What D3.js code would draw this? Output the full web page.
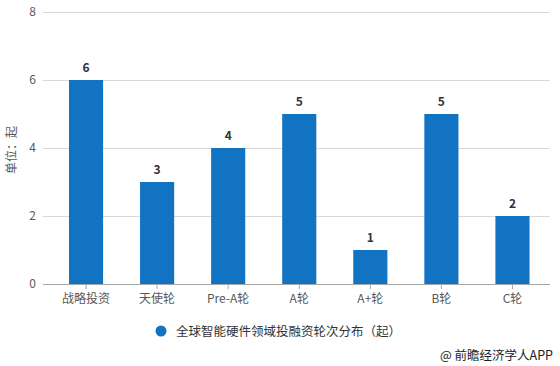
<!DOCTYPE html>
<html><head><meta charset="utf-8">
<script src="https://cdn.jsdelivr.net/npm/d3@7"></script>
<style>
body{margin:0;background:#fff;}
text{font-family:"Noto Sans CJK SC","Microsoft YaHei",sans-serif;}
</style></head>
<body><svg id="c" width="560" height="366"></svg>
<script>
const categories = ["战略投资","天使轮","Pre-A轮","A轮","A+轮","B轮","C轮"];
const values = [6,3,4,5,1,5,2];
const yTicks = [0,2,4,6,8];
const seriesName = "全球智能硬件领域投融资轮次分布（起）";

const svg = d3.select("#c");
const x = d3.scaleBand().domain(categories).range([50.5,548]).paddingInner(0.52).paddingOuter(0.26);
const y = d3.scaleLinear().domain([0,8]).range([284,12]);

// gridlines
svg.append("g").selectAll("line").data(yTicks.filter(d=>d>0)).join("line")
  .attr("x1",43).attr("x2",550).attr("y1",d=>y(d)).attr("y2",d=>y(d))
  .attr("stroke","#d9d9d9").attr("stroke-width",1).attr("shape-rendering","crispEdges");

// y tick labels
svg.append("g").selectAll("text").data(yTicks).join("text")
  .attr("x",36).attr("y",d=>y(d)+4).attr("text-anchor","end")
  .attr("font-size",12).attr("fill","#595959").text(d=>d);

// y label
svg.append("text").attr("transform","translate(16,150) rotate(-90)")
  .attr("text-anchor","middle").attr("font-size",12).attr("fill","#595959").text("单位：起");

// bars
svg.append("g").selectAll("rect").data(values).join("rect")
  .attr("x",(d,i)=>x(categories[i])).attr("width",x.bandwidth())
  .attr("y",d=>y(d)).attr("height",d=>y(0)-y(d)).attr("fill","#1273c3");

// value labels
svg.append("g").selectAll("text").data(values).join("text")
  .attr("x",(d,i)=>x(categories[i])+x.bandwidth()/2).attr("y",d=>y(d)-8)
  .attr("text-anchor","middle").attr("font-size",12).attr("font-weight","bold")
  .attr("fill","#333").text(d=>d);

// x axis
const xa = svg.append("g").attr("transform","translate(0,284)")
  .call(d3.axisBottom(x).tickSize(5).tickSizeOuter(0));
xa.select(".domain").remove();
svg.append("line").attr("x1",43).attr("x2",550).attr("y1",284.5).attr("y2",284.5).attr("stroke","#a6a6a6");
xa.selectAll(".tick line").attr("stroke","#a6a6a6");
xa.selectAll(".tick text").attr("font-size",12).attr("fill","#595959").attr("dy","0.9em")
  .style("font-family",'"Noto Sans CJK SC",sans-serif');

// legend
svg.append("circle").attr("cx",161).attr("cy",331).attr("r",5.5).attr("fill","#1273c3");
svg.append("text").attr("x",176).attr("y",335.5).attr("font-size",12.5).attr("fill","#333").text(seriesName);

// source
svg.append("text").attr("x",553).attr("y",360).attr("text-anchor","end").attr("font-size",12.5)
  .attr("fill","#222").text("@ 前瞻经济学人APP");
</script></body></html>
